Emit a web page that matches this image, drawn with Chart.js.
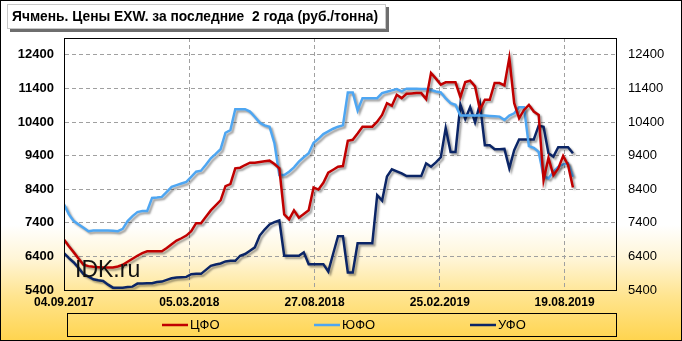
<!DOCTYPE html>
<html>
<head>
<meta charset="utf-8">
<script src="https://cdn.jsdelivr.net/npm/chart.js@4"></script>
<style>
  html, body { margin: 0; padding: 0; background: #fff; }
</style>
</head>
<body>
<canvas id="barley" width="682" height="341"></canvas>
<script>
// weekly prices, rub/tonne, starting 04.09.2017
const cfo = [6900, 6700, 6520, 6330, 6150, 6110, 6090, 6080, 6070, 6070,
  6070, 6100, 6150, 6240, 6330, 6420, 6500, 6550, 6550, 6550,
  6550, 6650, 6760, 6870, 6940, 7020, 7150, 7390, 7390, 7580,
  7770, 7920, 8070, 8490, 8550, 9020, 9040, 9120, 9190, 9190,
  9210, 9230, 9250, 9150, 9020, 7650, 7500, 7770, 7550, 7660,
  7770, 8450, 8390, 8590, 8890, 8980, 9070, 9090, 9840, 9870,
  10060, 10260, 10260, 10260, 10410, 10610, 10960, 10880, 11210, 11110,
  11240, 11250, 11260, 11260, 11080, 11860, 11690, 11510, 11580, 11580,
  11580, 11140, 11590, 11630, 11460, 10760, 11060, 11060, 11560, 11560,
  11490, 12310, 10960, 10510, 10760, 10910, 10710, 10610, 8670, 9330,
  8820, 9020, 9390, 9120, 8450];

const yufo = [7950, 7650, 7450, 7350, 7250, 7150, 7170, 7170, 7170, 7170,
  7160, 7150, 7220, 7450, 7600, 7720, 7750, 7750, 8140, 8150,
  8170, 8320, 8470, 8520, 8570, 8620, 8770, 8920, 8950, 9130,
  9320, 9450, 9590, 10080, 10160, 10780, 10780, 10780, 10710, 10550,
  10380, 10300, 10260, 9770, 8820, 8820, 8920, 9050, 9220, 9350,
  9470, 9780, 9900, 10040, 10120, 10200, 10260, 10300, 11280, 11280,
  10740, 11110, 11110, 11110, 11110, 11260, 11300, 11340, 11380, 11310,
  11390, 11390, 11390, 11380, 11380, 11350, 11310, 11280, 11100, 10960,
  10910, 10590, 10590, 10590, 10590, 10590, 10590, 10580, 10570, 10560,
  10460, 10590, 10660, 10840, 10840, 9680, 9630, 9510, 8790, 8720,
  8920, 9070, 9140, 9170, 8770];

const ufo = [6500, 6350, 6220, 6050, 5870, 5800, 5720, 5690, 5670, 5560,
  5470, 5470, 5470, 5490, 5500, 5590, 5590, 5600, 5600, 5640,
  5650, 5700, 5750, 5770, 5780, 5790, 5870, 5880, 5880, 6000,
  6120, 6160, 6190, 6250, 6270, 6270, 6420, 6470, 6570, 6670,
  7020, 7200, 7350, 7420, 7470, 6420, 6420, 6420, 6420, 6520,
  6170, 6170, 6170, 6170, 5950, 6480, 7000, 7000, 5920, 5920,
  6790, 6790, 6790, 6790, 8220, 8060, 8780, 8990, 8930, 8870,
  8790, 8790, 8790, 8790, 9170, 9070, 9200, 9350, 10220, 9510,
  9510, 10920, 10490, 10840, 10390, 10940, 9710, 9710, 9590, 9590,
  9600, 9020, 9560, 9880, 9880, 9880, 9880, 10290, 10260, 9470,
  9370, 9650, 9650, 9650, 9470];

const seriesNames = ['ЦФО', 'ЮФО', 'УФО'];
const seriesColors = ['#c00000', '#4ea6f2', '#0b2566'];

const tickLabels = ['04.09.2017', '05.03.2018', '27.08.2018', '25.02.2019', '19.08.2019'];
const tickWeeks = [0, 25.6, 51.2, 76.8, 102.3];
const yTicks = [5400, 6400, 7400, 8400, 9400, 10400, 11400, 12400];

const titleText = 'Ячмень. Цены EXW. за последние  2 года (руб./тонна)';

const toPoints = arr => arr.map((v, i) => ({x: i, y: v}));

const decor = {
  id: 'decor',
  beforeDraw(chart) {
    const {ctx, width, height} = chart;
    ctx.save();
    const g = ctx.createLinearGradient(0, 0, 0, height);
    g.addColorStop(0, '#ffffff');
    g.addColorStop(0.66, '#ffffff');
    g.addColorStop(0.76, '#fff5d6');
    g.addColorStop(0.87, '#ffe48e');
    g.addColorStop(1, '#ffd44e');
    ctx.fillStyle = g;
    ctx.fillRect(0, 0, width, height);
    ctx.restore();
  },
  beforeDatasetsDraw(chart) {
    const ctx = chart.ctx;
    ctx.save();
    ctx.shadowColor = 'rgba(0,0,0,0.38)';
    ctx.shadowOffsetX = 2;
    ctx.shadowOffsetY = 2;
    ctx.shadowBlur = 2;
  },
  afterDatasetsDraw(chart) {
    const ctx = chart.ctx;
    ctx.restore();
    const a = chart.chartArea;
    ctx.save();
    // watermark
    ctx.fillStyle = '#111';
    ctx.font = '23px "Liberation Sans", Arial, sans-serif';
    ctx.textBaseline = 'alphabetic';
    ctx.fillText('IDK.ru', 75, 277);
    // plot frame
    ctx.strokeStyle = '#000';
    ctx.lineWidth = 1;
    ctx.strokeRect(Math.round(a.left) + 0.5, Math.round(a.top) + 0.5,
      Math.round(a.right - a.left), Math.round(a.bottom - a.top));
    ctx.restore();
  },
  afterDraw(chart) {
    const {ctx, width, height} = chart;
    ctx.save();
    // title box
    ctx.fillStyle = '#6e6e6e';
    ctx.fillRect(10, 7, 379, 25);
    ctx.fillStyle = '#fff';
    ctx.fillRect(7, 4, 379, 25);
    ctx.strokeStyle = '#c8c8c8';
    ctx.strokeRect(7.5, 4.5, 378, 24);
    ctx.fillStyle = '#000';
    ctx.font = 'bold 14px "Liberation Sans", Arial, sans-serif';
    ctx.textBaseline = 'middle';
    ctx.fillText(titleText, 12, 17, 366);

    // legend box
    ctx.strokeStyle = '#000';
    ctx.lineWidth = 1;
    ctx.strokeRect(67.5, 313.5, 549, 23);
    const lx = [162, 314, 470];
    ctx.font = '13px "Liberation Sans", Arial, sans-serif';
    ctx.textBaseline = 'middle';
    chart.data.datasets.forEach((ds, i) => {
      ctx.strokeStyle = ds.borderColor;
      ctx.lineWidth = 2.5;
      ctx.beginPath();
      ctx.moveTo(lx[i], 325);
      ctx.lineTo(lx[i] + 26, 325);
      ctx.stroke();
      ctx.fillStyle = '#000';
      ctx.fillText(ds.label, lx[i] + 28, 325.5);
    });

    // outer border
    ctx.strokeStyle = '#000';
    ctx.lineWidth = 1;
    ctx.strokeRect(0.5, 0.5, width - 1, height - 1);
    ctx.restore();
  }
};

const datasets = [cfo, yufo, ufo].map((arr, i) => ({
  label: seriesNames[i],
  data: toPoints(arr),
  borderColor: seriesColors[i],
  backgroundColor: seriesColors[i],
  borderWidth: 2.5,
  pointRadius: 0,
  tension: 0,
  fill: false
}));

const dashGrid = {color: '#a0a0a0', lineWidth: 1, drawTicks: false};

new Chart(document.getElementById('barley'), {
  type: 'line',
  data: {datasets: datasets},
  options: {
    responsive: false,
    animation: false,
    devicePixelRatio: 1,
    layout: {padding: {left: 1, right: 0, top: 38, bottom: 31}},
    plugins: {
      legend: {display: false},
      tooltip: {enabled: false}
    },
    scales: {
      x: {
        type: 'linear',
        min: 0,
        max: 112.8,
        afterBuildTicks: s => { s.ticks = tickWeeks.map(v => ({value: v})); },
        afterFit: s => { s.height = 20; },
        grid: dashGrid,
        border: {display: true, color: '#000', dash: [4, 3]},
        ticks: {
          autoSkip: false,
          maxRotation: 0,
          padding: 5,
          color: '#000',
          font: {family: '"Liberation Sans", Arial, sans-serif', size: 12, weight: 'bold'},
          callback: (v, i) => tickLabels[i]
        }
      },
      y: {
        position: 'left',
        min: 5400,
        max: 12900,
        afterBuildTicks: s => { s.ticks = yTicks.map(v => ({value: v})); },
        afterFit: s => { s.width = 63; },
        grid: dashGrid,
        border: {display: true, color: '#000', dash: [4, 3]},
        ticks: {
          padding: 10,
          color: '#000',
          font: {family: '"Liberation Sans", Arial, sans-serif', size: 13, weight: 'bold'},
          callback: v => String(v)
        }
      },
      y2: {
        position: 'right',
        min: 5400,
        max: 12900,
        afterBuildTicks: s => { s.ticks = yTicks.map(v => ({value: v})); },
        afterFit: s => { s.width = 66; },
        grid: {display: false, drawTicks: false},
        border: {display: true, color: '#000'},
        ticks: {
          padding: 12,
          color: '#000',
          font: {family: '"Liberation Sans", Arial, sans-serif', size: 13},
          callback: v => String(v)
        }
      }
    }
  },
  plugins: [decor]
});
</script>
</body>
</html>
